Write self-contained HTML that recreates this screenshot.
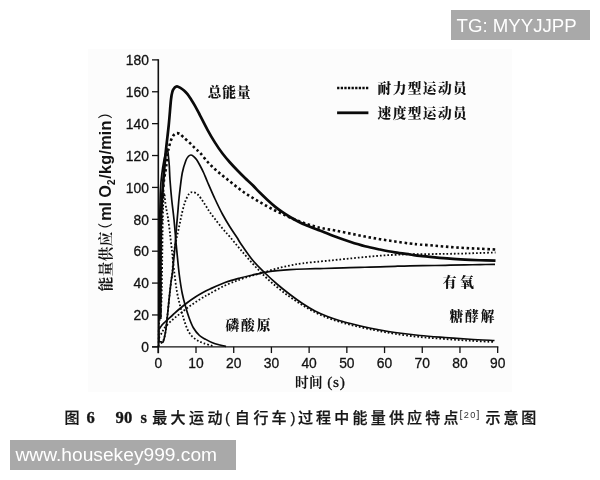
<!DOCTYPE html>
<html lang="zh"><head><meta charset="utf-8"><title>图 6</title>
<style>
html,body{margin:0;padding:0;background:#fff;}
body{width:600px;height:480px;position:relative;overflow:hidden;font-family:'Liberation Sans', 'Noto Sans CJK SC', sans-serif;}
.wm{position:absolute;background:#a9a9a9;color:#fff;font-family:'Liberation Sans',sans-serif;white-space:nowrap;}
#wm1{left:451px;top:10px;width:139px;height:30px;font-size:18.65px;line-height:30px;}
#wm1 span{position:absolute;left:5.5px;top:0.5px;}
#wm2{left:10px;top:440px;width:226px;height:30px;font-size:19.2px;line-height:30px;}
#wm2 span{position:absolute;left:5.5px;top:0px;}
#cap{position:absolute;left:0;top:405px;width:600px;height:26px;color:#161616;}
#cap .c{position:absolute;top:0;width:30px;text-align:center;font-size:15px;line-height:26px;font-weight:500;-webkit-text-stroke:0.25px #161616;font-family:'Liberation Sans', 'Noto Sans CJK SC', sans-serif;}
#cap .r{position:absolute;top:0;font-size:16.6px;line-height:26px;font-weight:700;font-family:'Liberation Serif',serif;-webkit-text-stroke:0.3px #161616;}
#cap .sup{position:absolute;top:-4px;font-size:10.5px;line-height:26px;font-family:'Liberation Sans',sans-serif;letter-spacing:1.3px;color:#333;}
</style></head><body>
<svg width="600" height="480" viewBox="0 0 600 480" style="position:absolute;left:0;top:0">
<rect x="88" y="49" width="424" height="343" fill="#fcfcfc"/>
<g stroke="#111" stroke-width="1.3" fill="none">
<path d="M158.30 59.23 V353.15" stroke-width="1.6"/><path d="M152.10 346.85 H498.32"/>
<path d="M158.30 346.85 h-6.3"/>
<path d="M158.30 314.96 h-6.3"/>
<path d="M158.30 283.08 h-6.3"/>
<path d="M158.30 251.19 h-6.3"/>
<path d="M158.30 219.31 h-6.3"/>
<path d="M158.30 187.42 h-6.3"/>
<path d="M158.30 155.53 h-6.3"/>
<path d="M158.30 123.65 h-6.3"/>
<path d="M158.30 91.76 h-6.3"/>
<path d="M158.30 59.88 h-6.3"/>
<path d="M158.30 346.85 v6.2"/>
<path d="M196.01 346.85 v6.2"/>
<path d="M233.72 346.85 v6.2"/>
<path d="M271.42 346.85 v6.2"/>
<path d="M309.13 346.85 v6.2"/>
<path d="M346.84 346.85 v6.2"/>
<path d="M384.55 346.85 v6.2"/>
<path d="M422.26 346.85 v6.2"/>
<path d="M459.96 346.85 v6.2"/>
<path d="M497.67 346.85 v6.2"/>
</g>
<g font-family="'Liberation Sans', sans-serif" font-size="14.9" fill="#111" stroke="#111" stroke-width="0.3">
<text transform="translate(148.9 352.05) scale(0.93 1)" text-anchor="end">0</text>
<text transform="translate(148.9 320.16) scale(0.93 1)" text-anchor="end">20</text>
<text transform="translate(148.9 288.28) scale(0.93 1)" text-anchor="end">40</text>
<text transform="translate(148.9 256.39) scale(0.93 1)" text-anchor="end">60</text>
<text transform="translate(148.9 224.51) scale(0.93 1)" text-anchor="end">80</text>
<text transform="translate(148.9 192.62) scale(0.93 1)" text-anchor="end">100</text>
<text transform="translate(148.9 160.73) scale(0.93 1)" text-anchor="end">120</text>
<text transform="translate(148.9 128.85) scale(0.93 1)" text-anchor="end">140</text>
<text transform="translate(148.9 96.96) scale(0.93 1)" text-anchor="end">160</text>
<text transform="translate(148.9 65.08) scale(0.93 1)" text-anchor="end">180</text>
<text transform="translate(158.30 368.2) scale(0.93 1)" text-anchor="middle">0</text>
<text transform="translate(196.01 368.2) scale(0.93 1)" text-anchor="middle">10</text>
<text transform="translate(233.72 368.2) scale(0.93 1)" text-anchor="middle">20</text>
<text transform="translate(271.42 368.2) scale(0.93 1)" text-anchor="middle">30</text>
<text transform="translate(309.13 368.2) scale(0.93 1)" text-anchor="middle">40</text>
<text transform="translate(346.84 368.2) scale(0.93 1)" text-anchor="middle">50</text>
<text transform="translate(384.55 368.2) scale(0.93 1)" text-anchor="middle">60</text>
<text transform="translate(422.26 368.2) scale(0.93 1)" text-anchor="middle">70</text>
<text transform="translate(459.96 368.2) scale(0.93 1)" text-anchor="middle">80</text>
<text transform="translate(497.67 368.2) scale(0.93 1)" text-anchor="middle">90</text>
</g>
<path d="M159.00 337.75 C159.50 336.88 161.00 334.25 162.00 332.50 C163.00 330.75 163.25 329.38 165.00 327.25 C166.75 325.12 170.00 322.00 172.50 319.75 C175.00 317.50 177.50 315.75 180.00 313.75 C182.50 311.75 185.00 309.62 187.50 307.75 C190.00 305.88 192.50 304.18 195.00 302.50 C197.50 300.82 200.00 299.20 202.50 297.70 C205.00 296.20 206.25 295.53 210.00 293.50 C213.75 291.47 220.00 287.83 225.00 285.50 C230.00 283.17 235.42 281.17 240.00 279.50 C244.58 277.83 248.33 276.75 252.50 275.50 C256.67 274.25 260.83 273.20 265.00 272.00 C269.17 270.80 273.33 269.38 277.50 268.30 C281.67 267.22 285.83 266.33 290.00 265.50 C294.17 264.67 297.50 263.97 302.50 263.30 C307.50 262.63 314.58 262.05 320.00 261.50 C325.42 260.95 330.00 260.50 335.00 260.00 C340.00 259.50 345.00 259.00 350.00 258.50 C355.00 258.00 360.00 257.47 365.00 257.00 C370.00 256.53 375.00 256.07 380.00 255.70 C385.00 255.33 390.00 255.03 395.00 254.80 C400.00 254.57 403.33 254.43 410.00 254.30 C416.67 254.17 428.33 254.08 435.00 254.00 C441.67 253.92 445.00 253.88 450.00 253.80 C455.00 253.72 460.00 253.63 465.00 253.50 C470.00 253.37 474.92 253.17 480.00 253.00 C485.08 252.83 492.92 252.58 495.50 252.50" fill="none" stroke="#0a0a0a" stroke-width="1.8" stroke-linejoin="round" stroke-dasharray="1.7 2.0"/>
<path d="M161.00 343.50 C161.33 343.08 162.42 342.08 163.00 341.00 C163.58 339.92 164.03 338.83 164.50 337.00 C164.97 335.17 165.30 333.67 165.80 330.00 C166.30 326.33 166.93 320.28 167.50 315.00 C168.07 309.72 168.75 302.63 169.20 298.30 C169.65 293.97 169.85 292.05 170.20 289.00 C170.55 285.95 170.92 282.83 171.30 280.00 C171.68 277.17 172.18 275.83 172.50 272.00 C172.82 268.17 172.75 261.75 173.25 257.00 C173.75 252.25 174.75 247.50 175.50 243.50 C176.25 239.50 177.00 236.50 177.75 233.00 C178.50 229.50 179.25 226.00 180.00 222.50 C180.75 219.00 181.38 215.50 182.25 212.00 C183.12 208.50 184.12 204.50 185.25 201.50 C186.38 198.50 187.75 195.55 189.00 194.00 C190.25 192.45 191.25 192.07 192.75 192.20 C194.25 192.32 196.12 192.95 198.00 194.75 C199.88 196.55 202.12 200.25 204.00 203.00 C205.88 205.75 207.42 208.58 209.25 211.25 C211.08 213.92 212.79 216.12 215.00 219.00 C217.21 221.88 220.00 225.50 222.50 228.50 C225.00 231.50 227.08 233.58 230.00 237.00 C232.92 240.42 236.25 244.58 240.00 249.00 C243.75 253.42 248.33 258.92 252.50 263.50 C256.67 268.08 260.83 272.50 265.00 276.50 C269.17 280.50 273.33 284.08 277.50 287.50 C281.67 290.92 285.83 294.05 290.00 297.00 C294.17 299.95 298.33 302.65 302.50 305.20 C306.67 307.75 310.83 310.20 315.00 312.30 C319.17 314.40 323.33 316.18 327.50 317.80 C331.67 319.42 335.83 320.75 340.00 322.00 C344.17 323.25 348.33 324.27 352.50 325.30 C356.67 326.33 360.83 327.30 365.00 328.20 C369.17 329.10 372.50 329.77 377.50 330.70 C382.50 331.63 387.92 332.75 395.00 333.80 C402.08 334.85 411.67 336.13 420.00 337.00 C428.33 337.87 436.67 338.38 445.00 339.00 C453.33 339.62 461.75 340.20 470.00 340.70 C478.25 341.20 490.42 341.78 494.50 342.00" fill="none" stroke="#0a0a0a" stroke-width="1.8" stroke-linejoin="round" stroke-dasharray="1.7 2.0"/>
<path d="M158.60 346.50 C158.65 343.08 158.60 331.25 158.90 326.00 C159.20 320.75 159.97 319.33 160.40 315.00 C160.83 310.67 161.20 309.17 161.50 300.00 C161.80 290.83 162.02 271.67 162.20 260.00 C162.38 248.33 162.43 239.17 162.60 230.00 C162.77 220.83 162.93 211.17 163.20 205.00 C163.47 198.83 163.83 193.28 164.20 193.00 C164.57 192.72 164.98 200.33 165.40 203.30 C165.82 206.27 166.28 208.43 166.70 210.80 C167.12 213.17 167.42 214.30 167.90 217.50 C168.38 220.70 169.12 226.12 169.60 230.00 C170.08 233.88 170.38 237.18 170.80 240.80 C171.22 244.42 171.75 248.50 172.10 251.70 C172.45 254.90 172.46 255.95 172.90 260.00 C173.34 264.05 174.07 270.67 174.75 276.00 C175.43 281.33 176.12 287.08 177.00 292.00 C177.88 296.92 178.88 301.00 180.00 305.50 C181.12 310.00 182.50 315.00 183.75 319.00 C185.00 323.00 186.12 326.62 187.50 329.50 C188.88 332.38 190.25 334.38 192.00 336.25 C193.75 338.12 196.00 339.57 198.00 340.75 C200.00 341.93 201.58 342.43 204.00 343.30 C206.42 344.18 211.08 345.55 212.50 346.00" fill="none" stroke="#0a0a0a" stroke-width="1.8" stroke-linejoin="round" stroke-dasharray="1.7 2.0"/>
<path d="M160.40 317.00 C160.42 314.17 160.43 309.50 160.50 300.00 C160.57 290.50 160.63 273.33 160.80 260.00 C160.97 246.67 161.05 232.50 161.50 220.00 C161.95 207.50 162.78 193.47 163.50 185.00 C164.22 176.53 165.25 173.08 165.80 169.20 C166.35 165.32 166.45 164.48 166.80 161.70 C167.15 158.92 167.58 154.73 167.90 152.50 C168.22 150.27 168.40 149.83 168.75 148.30 C169.10 146.77 169.54 144.85 170.00 143.30 C170.46 141.75 170.92 140.33 171.50 139.00 C172.08 137.67 172.67 136.27 173.50 135.30 C174.33 134.33 175.42 133.42 176.50 133.20 C177.58 132.98 178.92 133.40 180.00 134.00 C181.08 134.60 181.50 135.43 183.00 136.80 C184.50 138.17 187.00 140.30 189.00 142.20 C191.00 144.10 193.17 146.44 195.00 148.20 C196.83 149.96 197.92 150.49 200.00 152.75 C202.08 155.01 205.00 159.00 207.50 161.75 C210.00 164.50 212.50 166.96 215.00 169.25 C217.50 171.54 220.00 173.46 222.50 175.50 C225.00 177.54 227.50 179.50 230.00 181.50 C232.50 183.50 235.00 185.58 237.50 187.50 C240.00 189.42 242.50 191.29 245.00 193.00 C247.50 194.71 250.00 196.21 252.50 197.75 C255.00 199.29 257.50 200.80 260.00 202.25 C262.50 203.70 265.00 205.07 267.50 206.45 C270.00 207.82 272.50 209.24 275.00 210.50 C277.50 211.76 280.00 212.83 282.50 214.00 C285.00 215.17 287.08 216.25 290.00 217.50 C292.92 218.75 297.08 220.38 300.00 221.50 C302.92 222.62 305.00 223.37 307.50 224.20 C310.00 225.03 312.50 225.82 315.00 226.50 C317.50 227.18 319.17 227.58 322.50 228.25 C325.83 228.92 330.42 229.62 335.00 230.50 C339.58 231.38 345.00 232.50 350.00 233.50 C355.00 234.50 360.00 235.55 365.00 236.50 C370.00 237.45 375.00 238.38 380.00 239.20 C385.00 240.02 390.00 240.72 395.00 241.45 C400.00 242.17 405.83 243.04 410.00 243.55 C414.17 244.06 415.83 244.14 420.00 244.50 C424.17 244.86 430.00 245.28 435.00 245.70 C440.00 246.12 445.00 246.62 450.00 247.00 C455.00 247.38 460.00 247.72 465.00 248.00 C470.00 248.28 474.92 248.45 480.00 248.70 C485.08 248.95 492.92 249.37 495.50 249.50" fill="none" stroke="#0a0a0a" stroke-width="2.6" stroke-linejoin="round" stroke-dasharray="2.5 2.7"/>
<path d="M159.00 329.50 C159.50 328.75 161.00 326.25 162.00 325.00 C163.00 323.75 163.25 323.62 165.00 322.00 C166.75 320.38 170.00 317.50 172.50 315.25 C175.00 313.00 177.50 310.62 180.00 308.50 C182.50 306.38 185.00 304.38 187.50 302.50 C190.00 300.62 192.50 298.88 195.00 297.25 C197.50 295.62 200.00 294.12 202.50 292.75 C205.00 291.38 206.25 290.71 210.00 289.00 C213.75 287.29 220.00 284.33 225.00 282.50 C230.00 280.67 235.42 279.25 240.00 278.00 C244.58 276.75 248.33 275.95 252.50 275.00 C256.67 274.05 260.83 273.02 265.00 272.30 C269.17 271.58 273.33 271.13 277.50 270.70 C281.67 270.27 285.42 269.98 290.00 269.70 C294.58 269.42 300.00 269.18 305.00 269.00 C310.00 268.82 315.00 268.73 320.00 268.60 C325.00 268.47 330.00 268.35 335.00 268.20 C340.00 268.05 345.00 267.86 350.00 267.70 C355.00 267.54 360.00 267.40 365.00 267.25 C370.00 267.10 375.00 266.96 380.00 266.80 C385.00 266.64 390.00 266.45 395.00 266.30 C400.00 266.15 403.33 266.03 410.00 265.90 C416.67 265.77 428.33 265.62 435.00 265.50 C441.67 265.38 445.00 265.30 450.00 265.20 C455.00 265.10 460.00 265.00 465.00 264.90 C470.00 264.80 475.00 264.70 480.00 264.60 C485.00 264.50 492.50 264.35 495.00 264.30" fill="none" stroke="#0a0a0a" stroke-width="1.7" stroke-linejoin="round"/>
<path d="M158.80 331.00 C158.82 332.00 158.85 335.30 158.90 337.00 C158.95 338.70 158.75 340.40 159.10 341.20 C159.45 342.00 160.33 341.68 161.00 341.80 C161.67 341.92 162.52 342.70 163.10 341.90 C163.68 341.10 164.05 338.98 164.50 337.00 C164.95 335.02 165.30 333.67 165.80 330.00 C166.30 326.33 166.93 320.28 167.50 315.00 C168.07 309.72 168.75 302.63 169.20 298.30 C169.65 293.97 169.85 292.05 170.20 289.00 C170.55 285.95 170.92 282.83 171.30 280.00 C171.68 277.17 171.93 277.08 172.50 272.00 C173.07 266.92 174.12 256.50 174.75 249.50 C175.38 242.50 175.75 236.08 176.25 230.00 C176.75 223.92 177.25 218.67 177.75 213.00 C178.25 207.33 178.50 202.67 179.25 196.00 C180.00 189.33 181.12 178.96 182.25 173.00 C183.38 167.04 184.96 163.03 186.00 160.25 C187.04 157.47 187.70 157.18 188.50 156.30 C189.30 155.43 189.97 155.00 190.80 155.00 C191.63 155.00 192.55 155.55 193.50 156.30 C194.45 157.05 195.42 157.97 196.50 159.50 C197.58 161.03 198.79 163.25 200.00 165.50 C201.21 167.75 202.50 170.25 203.75 173.00 C205.00 175.75 205.62 177.67 207.50 182.00 C209.38 186.33 212.50 193.62 215.00 199.00 C217.50 204.38 220.00 209.58 222.50 214.25 C225.00 218.92 227.50 223.00 230.00 227.00 C232.50 231.00 235.83 235.67 237.50 238.25 C239.17 240.83 237.50 238.88 240.00 242.50 C242.50 246.12 248.33 254.92 252.50 260.00 C256.67 265.08 260.83 268.92 265.00 273.00 C269.17 277.08 273.33 280.92 277.50 284.50 C281.67 288.08 285.83 291.33 290.00 294.50 C294.17 297.67 298.33 300.75 302.50 303.50 C306.67 306.25 310.83 308.83 315.00 311.00 C319.17 313.17 323.33 314.88 327.50 316.50 C331.67 318.12 335.83 319.45 340.00 320.70 C344.17 321.95 348.33 322.95 352.50 324.00 C356.67 325.05 360.83 326.08 365.00 327.00 C369.17 327.92 372.50 328.58 377.50 329.50 C382.50 330.42 387.92 331.50 395.00 332.50 C402.08 333.50 411.67 334.67 420.00 335.50 C428.33 336.33 436.67 336.88 445.00 337.50 C453.33 338.12 461.75 338.75 470.00 339.25 C478.25 339.75 490.42 340.29 494.50 340.50" fill="none" stroke="#0a0a0a" stroke-width="1.7" stroke-linejoin="round"/>
<path d="M158.70 346.50 C158.75 340.42 158.88 324.42 159.00 310.00 C159.12 295.58 159.27 275.83 159.40 260.00 C159.53 244.17 159.63 226.67 159.80 215.00 C159.97 203.33 160.07 196.83 160.40 190.00 C160.73 183.17 161.20 179.00 161.80 174.00 C162.40 169.00 163.30 163.67 164.00 160.00 C164.70 156.33 165.43 153.78 166.00 152.00 C166.57 150.22 167.00 148.63 167.40 149.30 C167.80 149.97 168.08 153.22 168.40 156.00 C168.72 158.78 169.03 162.00 169.30 166.00 C169.57 170.00 169.59 174.33 170.00 180.00 C170.41 185.67 171.08 193.42 171.75 200.00 C172.42 206.58 173.25 212.00 174.00 219.50 C174.75 227.00 175.50 236.92 176.25 245.00 C177.00 253.08 177.88 262.17 178.50 268.00 C179.12 273.83 179.38 275.75 180.00 280.00 C180.62 284.25 181.38 289.25 182.25 293.50 C183.12 297.75 184.12 301.50 185.25 305.50 C186.38 309.50 187.62 313.75 189.00 317.50 C190.38 321.25 191.75 325.00 193.50 328.00 C195.25 331.00 197.50 333.62 199.50 335.50 C201.50 337.38 203.33 338.03 205.50 339.25 C207.67 340.47 210.08 341.84 212.50 342.80 C214.92 343.76 217.75 344.42 220.00 345.00 C222.25 345.58 225.00 346.08 226.00 346.30" fill="none" stroke="#0a0a0a" stroke-width="1.7" stroke-linejoin="round"/>
<path d="M160.30 319.00 C160.32 312.50 160.35 293.17 160.40 280.00 C160.45 266.83 160.47 251.33 160.60 240.00 C160.73 228.67 160.80 221.17 161.20 212.00 C161.60 202.83 162.24 195.00 163.00 185.00 C163.76 175.00 164.79 162.00 165.75 152.00 C166.71 142.00 167.88 133.75 168.75 125.00 C169.62 116.25 170.38 105.12 171.00 99.50 C171.62 93.88 171.88 93.25 172.50 91.25 C173.12 89.25 174.00 88.33 174.75 87.50 C175.50 86.67 176.12 86.28 177.00 86.30 C177.88 86.32 178.83 86.90 180.00 87.60 C181.17 88.30 182.75 89.40 184.00 90.50 C185.25 91.60 186.33 92.73 187.50 94.20 C188.67 95.67 189.75 97.37 191.00 99.30 C192.25 101.23 193.50 103.13 195.00 105.80 C196.50 108.47 197.92 111.30 200.00 115.30 C202.08 119.30 205.00 125.25 207.50 129.80 C210.00 134.35 212.50 138.65 215.00 142.60 C217.50 146.55 220.00 150.18 222.50 153.50 C225.00 156.82 227.50 159.67 230.00 162.50 C232.50 165.33 235.00 167.92 237.50 170.50 C240.00 173.08 242.50 175.58 245.00 178.00 C247.50 180.42 250.00 182.53 252.50 185.00 C255.00 187.47 257.50 190.30 260.00 192.80 C262.50 195.30 265.00 197.70 267.50 200.00 C270.00 202.30 272.50 204.57 275.00 206.60 C277.50 208.63 280.00 210.47 282.50 212.20 C285.00 213.93 287.08 215.28 290.00 217.00 C292.92 218.72 297.08 221.05 300.00 222.50 C302.92 223.95 305.00 224.67 307.50 225.70 C310.00 226.73 312.50 227.73 315.00 228.70 C317.50 229.67 319.17 230.20 322.50 231.50 C325.83 232.80 330.42 234.79 335.00 236.50 C339.58 238.21 345.00 240.12 350.00 241.75 C355.00 243.38 360.00 244.95 365.00 246.25 C370.00 247.55 375.00 248.53 380.00 249.55 C385.00 250.58 390.00 251.58 395.00 252.40 C400.00 253.22 405.83 253.92 410.00 254.50 C414.17 255.08 415.83 255.42 420.00 255.90 C424.17 256.38 430.00 256.93 435.00 257.40 C440.00 257.87 445.00 258.33 450.00 258.70 C455.00 259.07 460.00 259.34 465.00 259.60 C470.00 259.86 474.92 260.07 480.00 260.25 C485.08 260.43 492.92 260.62 495.50 260.70" fill="none" stroke="#0a0a0a" stroke-width="2.7" stroke-linejoin="round"/>
<path d="M337.1 88 H368.4" stroke="#0a0a0a" stroke-width="2.5" stroke-dasharray="2.3 1.31" fill="none"/>
<path d="M337.1 112.8 H368.4" stroke="#0a0a0a" stroke-width="2.8" fill="none"/>
<g font-family="'Liberation Serif', 'Noto Serif CJK SC', serif" font-weight="900" fill="#111">
<text x="377.6" y="93.3" font-size="13.7" letter-spacing="1.4">耐力型运动员</text>
<text x="377.6" y="118.0" font-size="13.7" letter-spacing="1.4">速度型运动员</text>
<text x="207.7" y="97.0" font-size="13.7" letter-spacing="0.8">总能量</text>
<text x="225.5" y="330.4" font-size="13.7" letter-spacing="1.9">磷酸原</text>
<text x="442.8" y="287.3" font-size="13.9" letter-spacing="3.4">有氧</text>
<text x="449.5" y="321.3" font-size="13.7" letter-spacing="1.9">糖酵解</text>
</g>
<text x="295" y="387.3" font-family="'Liberation Serif', 'Noto Serif CJK SC', serif" font-weight="700" font-size="13.6" fill="#111" letter-spacing="0.3">时间<tspan font-size="15.5" dx="4.5" letter-spacing="0.6" font-weight="400" stroke="#111" stroke-width="0.3">(s)</tspan></text>
<g transform="translate(111.2 291.3) rotate(-90)" fill="#111">
<text x="0" y="0" font-size="14.6" font-family="'Liberation Serif', 'Noto Serif CJK SC', serif" font-weight="700" letter-spacing="0.4">能量供应</text>
<text x="68.5" y="-0.5" font-size="14.6" text-anchor="end" font-family="'Liberation Sans', 'Noto Sans CJK SC', sans-serif" font-weight="400">（</text>
<text x="70.5" y="0" font-family="'Liberation Sans', sans-serif" font-weight="700" font-size="16.2">ml</text>
<text x="93.6" y="0" font-family="'Liberation Sans', sans-serif" font-weight="700" font-size="16.2" letter-spacing="0.1">O<tspan font-size="10" dy="3.5">2</tspan><tspan dy="-3.5" dx="0.7" letter-spacing="0.22">/kg/min</tspan></text>
<text x="172.2" y="-0.5" font-size="14.6" font-family="'Liberation Sans', 'Noto Sans CJK SC', sans-serif" font-weight="400">）</text>
</g>
</svg>
<div id="cap"><span class="c" style="left:56.9px;">图</span><span class="r" style="left:86.6px">6</span><span class="r" style="left:115.6px">90</span><span class="r" style="left:140.6px">s</span><span class="c" style="left:144.7px;">最</span><span class="c" style="left:163.1px;">大</span><span class="c" style="left:181.6px;">运</span><span class="c" style="left:200.0px;">动</span><span class="c" style="left:212.6px;font-weight:400;">(</span><span class="c" style="left:227.3px;">自</span><span class="c" style="left:246.0px;">行</span><span class="c" style="left:263.9px;">车</span><span class="c" style="left:278.0px;font-weight:400;">)</span><span class="c" style="left:290.4px;">过</span><span class="c" style="left:308.6px;">程</span><span class="c" style="left:326.8px;">中</span><span class="c" style="left:345.0px;">能</span><span class="c" style="left:363.2px;">量</span><span class="c" style="left:381.4px;">供</span><span class="c" style="left:399.6px;">应</span><span class="c" style="left:417.8px;">特</span><span class="c" style="left:436.0px;">点</span><span class="sup" style="left:459.5px">[<span style="font-size:9.2px">20</span>]</span><span class="c" style="left:478.1px;">示</span><span class="c" style="left:496.0px;">意</span><span class="c" style="left:513.8px;">图</span></div>
<div class="wm" id="wm1"><span>TG: MYYJJPP</span></div>
<div class="wm" id="wm2"><span>www.housekey999.com</span></div>
</body></html>
